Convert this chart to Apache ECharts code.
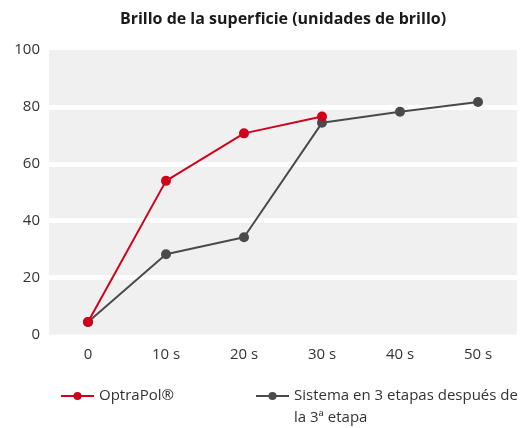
<!DOCTYPE html>
<html>
<head>
<meta charset="utf-8">
<script src="https://cdn.jsdelivr.net/npm/echarts@6/dist/echarts.min.js"></script>
<style>
  html, body { margin: 0; padding: 0; background: #fff; }
  #chart { width: 530px; height: 428px; }
</style>
</head>
<body>
<div id="chart"></div>
<script>
  // categorías y valores
  var categories = ['0', '10 s', '20 s', '30 s', '40 s', '50 s'];
  var optraPol = [4.4, 54.0, 70.7, 76.6, null, null];
  var sistema3 = [4.4, 28.2, 34.2, 74.4, 78.3, 81.7];
  var seriesNames = ['OptraPol®', 'Sistema en 3 etapas después de\nla 3ª etapa'];

  var fontFam = '"Liberation Sans Narrow", "Open Sans", "DejaVu Sans Condensed", sans-serif';
  var textColor = '#333333';

  var chart = echarts.init(document.getElementById('chart'));
  chart.setOption({
    animation: false,
    textStyle: { fontFamily: fontFam },
    title: {
      text: 'Brillo de la superficie (unidades de brillo)',
      left: 278,
      textAlign: 'center',
      top: 6,
      textStyle: { fontFamily: fontFam, fontSize: 16, fontWeight: 'bold', color: '#1a1a1a' }
    },
    grid: {
      left: 49, right: 13, top: 50, bottom: 93.5,
      show: true, backgroundColor: '#f0f0f0', borderWidth: 0
    },
    legend: [{
      data: [seriesNames[0]],
      left: 60, top: 385, padding: 0,
      itemWidth: 33, itemHeight: 10,
      textStyle: { fontFamily: fontFam, fontSize: 15, color: textColor, lineHeight: 22 }
    }, {
      data: [seriesNames[1]],
      left: 255, top: 363, padding: 0,
      itemWidth: 33, itemHeight: 10,
      // línea vacía delante para que el icono quede a la altura de la primera línea
      formatter: function (name) { return ' \n' + name; },
      textStyle: { fontFamily: fontFam, fontSize: 15, color: textColor, lineHeight: 22 }
    }],
    xAxis: {
      type: 'category',
      data: categories,
      boundaryGap: true,
      axisLine: { show: false },
      axisTick: { show: false },
      axisLabel: { fontSize: 15, color: textColor, margin: 13, fontFamily: fontFam }
    },
    yAxis: {
      type: 'value',
      min: 0, max: 100, interval: 20,
      axisLine: { show: false },
      axisTick: { show: false },
      axisLabel: { fontSize: 15, color: textColor, margin: 9, fontFamily: fontFam },
      splitLine: { show: true, showMinLine: false, showMaxLine: false, lineStyle: { color: '#ffffff', width: 5 } }
    },
    series: [{
      name: seriesNames[1],
      type: 'line',
      data: sistema3,
      symbol: 'circle',
      symbolSize: 10,
      itemStyle: { color: '#4a4a4a' },
      lineStyle: { color: '#4a4a4a', width: 2 },
      z: 2
    }, {
      name: seriesNames[0],
      type: 'line',
      data: optraPol,
      symbol: 'circle',
      symbolSize: 10,
      itemStyle: { color: '#d0021b' },
      lineStyle: { color: '#d0021b', width: 2 },
      z: 3
    }]
  });
</script>
</body>
</html>
